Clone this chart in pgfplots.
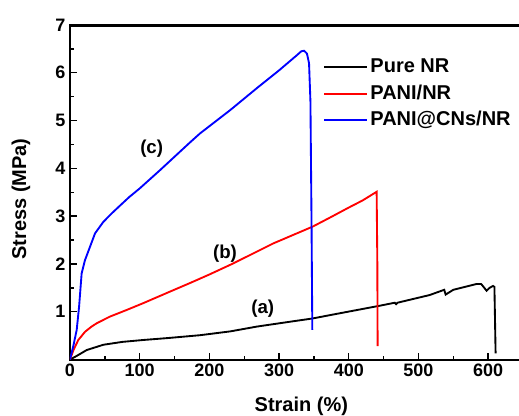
\documentclass[border=0pt]{standalone}
\usepackage{fontspec}
\setmainfont{Liberation Sans}
\usepackage{pgfplots}
\pgfplotsset{compat=1.18}

\newcommand{\tck}{\fontsize{13.5}{16}\selectfont\bfseries}
\newcommand{\lbl}{\fontsize{15}{18}\selectfont\bfseries}
\newcommand{\ann}{\fontsize{14}{17}\selectfont\bfseries}

\begin{document}
\begin{tikzpicture}
\path[use as bounding box] (-52.5pt,-42.3pt) rectangle (336.75pt,269.7pt);
\begin{axis}[
 name=main,
 at={(0,0)},anchor=south west,scale only axis,
 width=339.75pt,height=251pt,
 xmin=0,xmax=650,ymin=0,ymax=7,
 axis line style={line width=1.4pt},
 xtick={0,100,...,600},ytick={1,...,7},
 xtick pos=bottom,ytick pos=left,
 minor x tick num=1,minor y tick num=1,
 tick align=inside,
 major tick length=5pt,minor tick length=3pt,
 every tick/.style={black,line width=1pt},
 /pgf/number format/assume math mode=true,
 tick label style={font=\tck},
 xlabel={Strain (\%)},ylabel={Stress (MPa)},
 every axis x label/.style={at={(axis cs:332,0)},yshift=-35.3pt,anchor=center,font=\lbl},
 every axis y label/.style={at={(rel axis cs:0,0.48)},xshift=-36.8pt,rotate=90,anchor=center,font=\lbl},
 legend style={draw=none,fill=none,at={(axis cs:363,6.37)},anchor=north west,font=\lbl,
  inner sep=0pt,row sep=1.85pt,nodes={text height=11pt,text depth=3pt,inner sep=2pt}},
 legend cell align=left,
 legend image code/.code={\draw[#1] (0pt,0pt) -- (32pt,0pt);},
]
\addplot[black,line width=1.4pt] coordinates {
 (0,0) (10,0.08) (24,0.2) (47.8,0.31) (75,0.37) (105,0.41) (140,0.45)
 (186.5,0.51) (230,0.59) (268,0.69) (310,0.78) (348,0.86) (373,0.93)
 (442,1.12) (466,1.19) (468,1.16) (470,1.19) (516,1.35) (537,1.46)
 (539,1.36) (550,1.46) (583,1.58) (590,1.58) (594,1.51) (597.8,1.44)
 (602,1.50) (607,1.54) (609,1.52) (610.7,0.13)
};
\addlegendentry{Pure NR}
\addplot[red,line width=1.4pt] coordinates {
 (0,0) (5,0.2) (11.9,0.41) (21.5,0.58) (30,0.68) (38.3,0.76) (57.4,0.90)
 (80,1.03) (105,1.18) (140,1.40) (172,1.60) (200,1.78) (234,2.01)
 (291.7,2.43) (348,2.78) (373,2.97) (400,3.18) (420,3.33) (440,3.51)
 (441,2.0) (441.4,0.28)
};
\addlegendentry{PANI/NR}
\addplot[blue,line width=1.4pt] coordinates {
 (0,0) (5,0.3) (9.6,0.62) (13,1.1) (16.7,1.8) (21.5,2.08) (28.7,2.36)
 (35.9,2.64) (47.8,2.88) (60,3.06) (71.7,3.22) (85,3.40) (100,3.58) (129,3.96)
 (172,4.54) (186.5,4.73) (230,5.22) (270,5.70) (300,6.05) (325,6.36)
 (332,6.45) (336,6.46) (340,6.40) (343,6.2) (345,5.4) (346.5,3)
 (347.7,0.62)
};
\addlegendentry{PANI@CNs/NR}
\node[font=\ann] at (axis cs:276.5,1.07) {(a)};
\node[font=\ann] at (axis cs:222.4,2.22) {(b)};
\node[font=\ann] at (axis cs:117.2,4.42) {(c)};
\end{axis}
\draw[line width=1.5pt,black] (0pt,250.3pt) -- (340pt,250.3pt);
\end{tikzpicture}
\end{document}
